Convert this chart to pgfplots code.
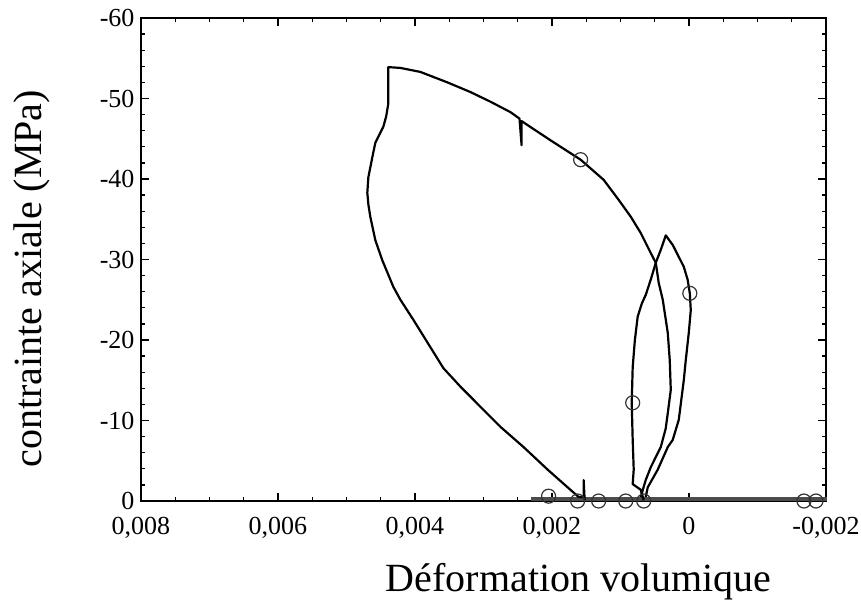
\documentclass[border=0pt]{standalone}
\usepackage{pgfplots}
\pgfplotsset{compat=1.18}
\usepackage{fontspec}
\setmainfont{Liberation Serif}

% cycle 1 (small loop, peak about -33 MPa)
\pgfplotstableread{
x y
0.000661 -0.1
0.000705 -1.4
0.000822 -2.1
0.000807 -3.9
0.000822 -7.6
0.000836 -12.2
0.000822 -16.6
0.000790 -20.0
0.000749 -22.9
0.000690 -24.5
0.000632 -25.6
0.000558 -27.5
0.000485 -29.6
0.000412 -31.2
0.000339 -33.0
0.000237 -31.8
0.000076 -29.1
0.000020 -27.5
-0.000012 -25.8
-0.000026 -23.7
0.000003 -20.9
0.000047 -17.5
0.000076 -15.0
0.000149 -10.1
0.000237 -7.6
0.000310 -6.7
0.000456 -3.9
0.000602 -1.7
0.000632 -0.5
}\cycleA

% cycle 2 (large loop, peak about -54 MPa)
\pgfplotstableread{
x y
0.000705 -0.5
0.000632 -2.6
0.000558 -4.2
0.000412 -6.7
0.000340 -9.0
0.000310 -10.9
0.000266 -13.8
0.000281 -17.5
0.000310 -20.9
0.000383 -25.0
0.000442 -27.1
0.000485 -29.6
0.000558 -30.8
0.000705 -33.3
0.000849 -35.3
0.001026 -37.4
0.001246 -39.9
0.001582 -42.4
0.002020 -44.8
0.002357 -46.7
0.002444 -47.2
0.002444 -44.2
0.002474 -47.5
0.002605 -48.3
0.002898 -49.6
0.003190 -50.8
0.003526 -52.0
0.003921 -53.3
0.004213 -53.8
0.004389 -53.9
0.004389 -49.4
0.004420 -47.8
0.004462 -46.5
0.004579 -44.5
0.004623 -42.7
0.004681 -40.2
0.004696 -38.3
0.004680 -36.8
0.004652 -35.3
0.004579 -32.4
0.004477 -29.9
0.004316 -26.6
0.004213 -25.0
0.004023 -22.5
0.003775 -19.1
0.003585 -16.5
0.003336 -14.2
0.003044 -11.7
0.002751 -9.2
0.002415 -6.7
0.002064 -3.9
0.001772 -1.7
0.001611 -0.5
0.001538 -0.5
0.001538 -2.6
0.001523 -0.1
}\cycleB

% open circle markers
\pgfplotstableread{
x y
0.001582 -42.4
-0.000012 -25.8
0.000822 -12.2
0.002050 -0.6
0.001626 0
0.001319 0
0.000924 0
0.000661 0
-0.001678 0
-0.001854 0
}\marks

\begin{document}
\begin{tikzpicture}
\useasboundingbox (0,0) rectangle (861pt,605pt);
\begin{axis}[
  at={(141pt,104pt)}, anchor=south west,
  scale only axis, width=685pt, height=483pt,
  x dir=reverse, y dir=reverse,
  xmin=-0.002, xmax=0.008, ymin=-60, ymax=0,
  xtick={-0.002,0,0.002,0.004,0.006,0.008},
  xticklabels={{-0,002},{0},{0,002},{0,004},{0,006},{0,008}},
  minor x tick num=3,
  ytick={-60,-50,-40,-30,-20,-10,0},
  minor y tick num=4,
  scaled x ticks=false,
  tick align=inside,
  major tick length=8pt, minor tick length=4pt,
  every tick/.style={black, line width=1.3pt},
  axis line style={line width=1.8pt},
  /pgf/number format/assume math mode=true,
  tick label style={font=\fontsize{26}{30}\selectfont},
  xticklabel style={yshift=-13pt},
  yticklabel style={xshift=-3pt},
  label style={font=\fontsize{40}{48}\selectfont},
  xlabel={Déformation volumique},
  ylabel={contrainte axiale (MPa)},
  xlabel style={at={(axis description cs:0.639,-0.167)}, anchor=center},
  ylabel style={at={(axis description cs:-0.159,0.46)}, anchor=center},
  clip=false,
]
% base line at zero stress
\addplot[line width=4pt, black!70, forget plot] coordinates {(0.002313,-0.3) (-0.002015,-0.3)};
\addplot[line width=2.2pt, black, line join=round] table {\cycleA};
\addplot[line width=2.2pt, black, line join=round] table {\cycleB};
\addplot[only marks, mark=o, mark size=7pt, mark options={line width=1.2pt, black!80}] table {\marks};
\end{axis}
\end{tikzpicture}
\end{document}
